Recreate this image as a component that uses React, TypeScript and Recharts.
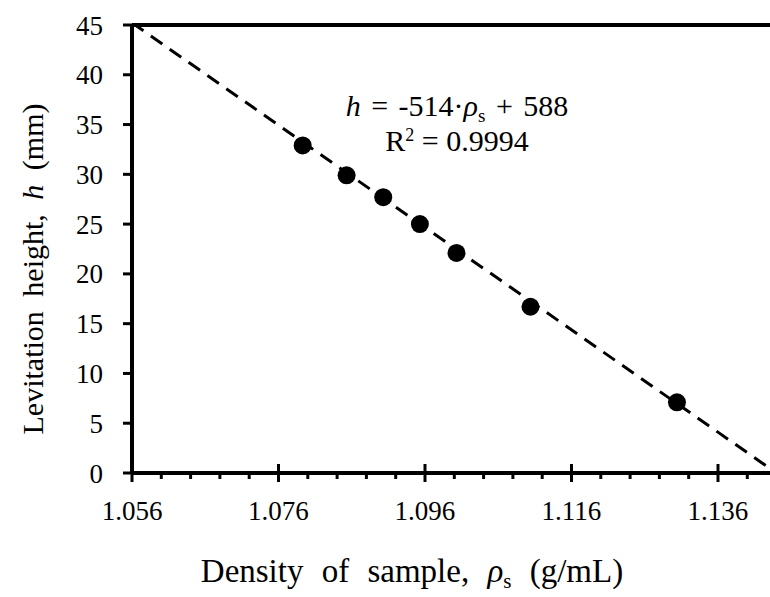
import { ScatterChart, Scatter, XAxis, YAxis, ReferenceLine } from 'recharts';

// measured points
const density = [1.0793, 1.0853, 1.0903, 1.0953, 1.1003, 1.1104, 1.1304];
const height = [32.9, 29.9, 27.7, 25.0, 22.1, 16.7, 7.1];

// fitted line h = -514*rho + 588, ends of the drawn segment
const trendX = [1.056, 1.1431];
const trendY = [45.22, 0.45];

const majorTicks = [1.056, 1.076, 1.096, 1.116, 1.136];
const allTicks = [
  1.056, 1.06, 1.064, 1.068, 1.072, 1.076, 1.08, 1.084, 1.088, 1.092, 1.096,
  1.1, 1.104, 1.108, 1.112, 1.116, 1.12, 1.124, 1.128, 1.132, 1.136, 1.14,
];
const yTicks = [0, 5, 10, 15, 20, 25, 30, 35, 40, 45];

const points = density.map((x, i) => ({ x, y: height[i] }));
const trend = trendX.map((x, i) => ({ x, y: trendY[i] }));

const FONT = '"Liberation Serif", "Times New Roman", serif';

const XTick = (props: any) => {
  const { x, y, payload } = props;
  const major = majorTicks.some((t) => Math.abs(t - payload.value) < 1e-6);
  return (
    <g>
      <line
        x1={x}
        x2={x}
        y1={major ? y - 9 : y}
        y2={major ? y + 9 : y + 6}
        stroke="#000"
        strokeWidth={3}
      />
      {major && (
        <text x={x} y={y + 47} textAnchor="middle" fontSize={27} fontFamily={FONT} fill="#000">
          {payload.value.toFixed(3)}
        </text>
      )}
    </g>
  );
};

const sub = { fontSize: 19, position: 'relative' as const, top: 6, lineHeight: 0 };
const sup = { fontSize: 18, position: 'relative' as const, top: -10, lineHeight: 0 };

export default function App() {
  return (
    <div
      style={{
        position: 'fixed',
        left: 0,
        top: 0,
        width: 770,
        height: 597,
        overflow: 'hidden',
        background: '#fff',
        fontFamily: FONT,
        color: '#000',
      }}
    >
      <ScatterChart width={770} height={597} margin={{ top: 25, right: 0, left: 0, bottom: 64 }}>
        <XAxis
          type="number"
          dataKey="x"
          domain={[1.056, 1.1431]}
          ticks={allTicks}
          interval={0}
          allowDataOverflow
          height={60}
          tickSize={0}
          tickMargin={0}
          tickLine={false}
          axisLine={{ stroke: '#000', strokeWidth: 4 }}
          tick={<XTick />}
        />
        <YAxis
          type="number"
          dataKey="y"
          domain={[0, 45]}
          ticks={yTicks}
          interval={0}
          allowDataOverflow
          width={132}
          tickSize={9}
          tickMargin={20}
          tickLine={{ stroke: '#000', strokeWidth: 3 }}
          axisLine={{ stroke: '#000', strokeWidth: 4 }}
          tick={{ fill: '#000', fontSize: 27, fontFamily: FONT }}
        />
        <ReferenceLine y={45} stroke="#000" strokeWidth={4} />
        <Scatter
          data={trend}
          line={{ stroke: '#000', strokeWidth: 3, strokeDasharray: '14 9' }}
          lineType="joint"
          shape={() => <g />}
          isAnimationActive={false}
        />
        <Scatter
          data={points}
          shape={(p: any) => <circle cx={p.cx} cy={p.cy} r={9} fill="#000" />}
          isAnimationActive={false}
        />
      </ScatterChart>

      <div
        style={{
          position: 'absolute',
          left: 257,
          top: 88,
          width: 400,
          textAlign: 'center',
          fontSize: 30,
          lineHeight: '36px',
          wordSpacing: 3,
          whiteSpace: 'nowrap',
        }}
      >
        <i>h</i> = -514·<i>ρ</i>
        <span style={sub}>s</span> + 588
      </div>
      <div
        style={{
          position: 'absolute',
          left: 257,
          top: 123,
          width: 400,
          textAlign: 'center',
          fontSize: 30,
          lineHeight: '36px',
          whiteSpace: 'nowrap',
        }}
      >
        R<span style={sup}>2</span> = 0.9994
      </div>

      <div
        style={{
          position: 'absolute',
          left: 112,
          top: 553,
          width: 600,
          textAlign: 'center',
          fontSize: 33,
          wordSpacing: 10,
          whiteSpace: 'nowrap',
        }}
      >
        Density of sample, <i>ρ</i>
        <span style={{ ...sub, fontSize: 21 }}>s</span> (g/mL)
      </div>

      <div
        style={{
          position: 'absolute',
          left: 33,
          top: 269,
          width: 500,
          textAlign: 'center',
          fontSize: 30,
          wordSpacing: 7,
          whiteSpace: 'nowrap',
          transform: 'translate(-50%, -50%) rotate(-90deg)',
        }}
      >
        Levitation height, <i>h</i> (mm)
      </div>
    </div>
  );
}
